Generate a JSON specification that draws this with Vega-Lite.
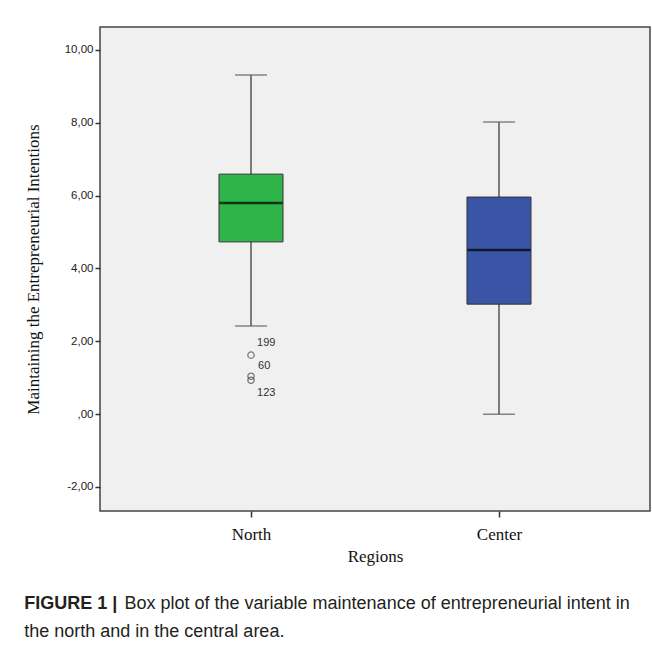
{
  "$schema": "https://vega.github.io/schema/vega-lite/v6.json",
  "background": "white",
  "padding": {"left": 23, "top": 26, "right": 2, "bottom": 5},
  "title": {
    "text": "Box plot of the variable maintenance of entrepreneurial intent in",
    "orient": "bottom", "anchor": "start", "frame": "bounds",
    "dx": 101, "offset": -47,
    "font": "Liberation Sans", "fontSize": 18, "fontWeight": "normal", "color": "#231f20"
  },
  "vconcat": [
    {
      "width": 550,
      "height": 484,
      "title": {
        "text": "FIGURE 1 |",
        "subtitle": "the north and in the central area.",
        "orient": "bottom", "anchor": "start", "frame": "bounds", "offset": 31,
        "font": "Liberation Sans", "fontSize": 18, "fontWeight": "bold", "color": "#231f20",
        "subtitleFont": "Liberation Sans", "subtitleFontSize": 18, "subtitleFontWeight": "normal",
        "subtitleColor": "#231f20", "subtitlePadding": 10
      },
      "data": {
        "values": [
          {"region": "North", "lower": 2.42, "q1": 4.73, "median": 5.8, "q3": 6.59, "upper": 9.31},
          {"region": "Center", "lower": 0.0, "q1": 3.02, "median": 4.51, "q3": 5.96, "upper": 8.02}
        ]
      },
      "encoding": {
        "x": {
          "field": "region", "type": "nominal", "sort": ["North", "Center"],
          "scale": {"type": "point", "padding": 0.609},
          "axis": {
            "title": "Regions", "labelAngle": 0,
            "titleFont": "Liberation Serif", "titleFontSize": 17, "titleFontWeight": "normal", "titleColor": "#111",
            "labelFont": "Liberation Serif", "labelFontSize": 17, "labelColor": "#111",
            "tickColor": "#333", "tickSize": 6, "tickWidth": 1.5, "domain": false, "labelPadding": 9, "titlePadding": 6
          }
        }
      },
      "layer": [
        {
          "mark": {"type": "rule", "color": "#555", "strokeWidth": 1.5},
          "encoding": {
            "y": {
              "field": "lower", "type": "quantitative",
              "scale": {"domain": [-2.66, 10.63], "nice": false, "zero": false},
              "axis": {
                "title": "Maintaining the Entrepreneurial Intentions",
                "values": [-2, 0, 2, 4, 6, 8, 10],
                "labelExpr": "datum.value == 0 ? ',00' : replace(replace(format(datum.value, '.2f'), '.', ','), '\u2212', '-')",
                "labelFont": "Liberation Sans", "labelFontSize": 11.5, "labelColor": "#222",
                "titleFont": "Liberation Serif", "titleFontSize": 17, "titleFontWeight": "normal", "titleColor": "#111",
                "tickColor": "#333", "tickSize": 5, "tickWidth": 1.5, "domain": false, "grid": false,
                "labelPadding": 2, "titlePadding": 22
              }
            },
            "y2": {"field": "upper"}
          }
        },
        {
          "mark": {"type": "tick", "color": "#555", "thickness": 1.5, "size": 32},
          "encoding": {"y": {"field": "lower", "type": "quantitative"}}
        },
        {
          "mark": {"type": "tick", "color": "#555", "thickness": 1.5, "size": 32},
          "encoding": {"y": {"field": "upper", "type": "quantitative"}}
        },
        {
          "mark": {"type": "bar", "size": 64, "stroke": "#333", "strokeWidth": 1, "opacity": 1},
          "encoding": {
            "y": {"field": "q1", "type": "quantitative"},
            "y2": {"field": "q3"},
            "color": {
              "field": "region", "type": "nominal",
              "scale": {"domain": ["North", "Center"], "range": ["#2fb449", "#3a55a6"]},
              "legend": null
            }
          }
        },
        {
          "mark": {"type": "tick", "color": "#000", "thickness": 2.5, "size": 63},
          "encoding": {"y": {"field": "median", "type": "quantitative"}}
        },
        {
          "data": {
            "values": [
              {"region": "North", "value": 1.62, "case": "199"},
              {"region": "North", "value": 1.04, "case": "60"},
              {"region": "North", "value": 0.93, "case": "123"}
            ]
          },
          "layer": [
            {
              "mark": {"type": "point", "shape": "circle", "filled": false, "size": 40, "stroke": "#444", "strokeWidth": 1.3},
              "encoding": {"y": {"field": "value", "type": "quantitative"}}
            },
            {
              "transform": [{"filter": "datum.case == '199'"}],
              "mark": {"type": "text", "align": "left", "baseline": "middle", "dx": 6, "dy": -12, "font": "Liberation Sans", "fontSize": 11, "color": "#333"},
              "encoding": {"y": {"field": "value", "type": "quantitative"}, "text": {"field": "case"}}
            },
            {
              "transform": [{"filter": "datum.case == '60'"}],
              "mark": {"type": "text", "align": "left", "baseline": "middle", "dx": 7, "dy": -10, "font": "Liberation Sans", "fontSize": 11, "color": "#333"},
              "encoding": {"y": {"field": "value", "type": "quantitative"}, "text": {"field": "case"}}
            },
            {
              "transform": [{"filter": "datum.case == '123'"}],
              "mark": {"type": "text", "align": "left", "baseline": "middle", "dx": 6, "dy": 13, "font": "Liberation Sans", "fontSize": 11, "color": "#333"},
              "encoding": {"y": {"field": "value", "type": "quantitative"}, "text": {"field": "case"}}
            }
          ]
        }
      ]
    }
  ],
  "config": {
    "view": {"stroke": "#444", "strokeWidth": 1.5, "fill": "#f0f0f0"},
    "concat": {"spacing": 0}
  }
}
